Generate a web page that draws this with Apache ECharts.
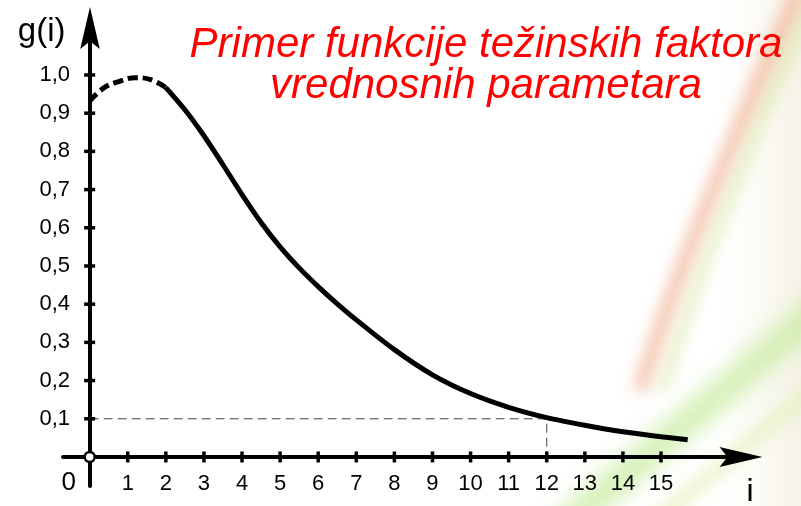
<!DOCTYPE html>
<html>
<head>
<meta charset="utf-8">
<script src="https://cdn.jsdelivr.net/npm/echarts@6/dist/echarts.min.js"></script>
<style>
    html, body { margin: 0; padding: 0; background: #fff; }
    #main { width: 801px; height: 506px; }
</style>
</head>
<body>
<div id="main"></div>
<script>
    // dashed start of the curve
    var headI = [0, 0.4, 0.8, 1.2, 1.6, 2.0]
    var headG = [0.932, 0.968, 0.984, 0.993, 0.988, 0.967]
    // solid part of the curve
    var tailI = [2.0, 2.5, 3, 3.5, 4, 4.5, 5, 5.5, 6, 6.5, 7, 8, 9, 10, 11, 12, 13, 14, 15, 15.7]
    var tailG = [0.967, 0.909, 0.841, 0.765, 0.687, 0.614, 0.55, 0.495, 0.446, 0.401, 0.359, 0.281, 0.215, 0.166, 0.13, 0.103, 0.083, 0.066, 0.053, 0.045]
    // helper line at g = 0,1 (i = 12)
    var refI = [0, 12, 12]
    var refG = [0.1, 0.1, 0]
    // tick labels
    var xTicks = [1, 2, 3, 4, 5, 6, 7, 8, 9, 10, 11, 12, 13, 14, 15]
    var yTicks = [0.1, 0.2, 0.3, 0.4, 0.5, 0.6, 0.7, 0.8, 0.9, 1.0]

    var FONT = '"Liberation Sans", Arial, sans-serif'
    var ARROW = 'path://M0,43 L10,0 L20,43 L10,35 Z'
    var FAR = 2000  // shapes drawn off screen, only their blurred shadow is seen

    function pairs(a, b) {
        var out = []
        for (var k = 0; k < a.length; k++) out.push([a[k], b[k]])
        return out
    }

    function streak(shapeType, shape, color, width, blur) {
        var s = {}
        for (var key in shape) s[key] = shape[key]
        s.x1 += FAR; s.x2 += FAR
        if (s.cpx1 != null) { s.cpx1 += FAR; s.cpx2 += FAR }
        return {
            type: shapeType, z: -10, silent: true, shape: s,
            style: {
                stroke: color, lineWidth: width, fill: null,
                shadowBlur: blur, shadowColor: color, shadowOffsetX: -FAR
            }
        }
    }

    var chart = echarts.init(document.getElementById('main'), null, {renderer: 'canvas'})

    var option = {
        backgroundColor: '#ffffff',
        animation: false,
        title: {
            text: 'Primer funkcije težinskih faktora\nvrednosnih parametara',
            left: 486,
            top: 25,
            textAlign: 'center',
            padding: 0,
            textStyle: {
                color: '#ff0000',
                fontStyle: 'italic',
                fontWeight: 'normal',
                fontSize: 42,
                lineHeight: 41,
                fontFamily: FONT
            }
        },
        grid: {
            left: 63,
            top: 28,
            width: 678,
            height: 458,
            outerBoundsMode: 'none',
            containLabel: false
        },
        xAxis: {
            type: 'value',
            min: -0.7,
            max: 17.1,
            offset: -29,
            splitLine: { show: false },
            axisTick: { show: false },
            axisLine: {
                onZero: false,
                symbol: ['none', ARROW],
                symbolSize: [21, 43],
                lineStyle: { color: '#000', width: 4 }
            },
            axisLabel: {
                customValues: xTicks,
                margin: 16,
                color: '#000',
                fontSize: 22,
                fontFamily: FONT
            }
        },
        yAxis: {
            type: 'value',
            min: -0.076,
            max: 1.123,
            offset: -27,
            splitLine: { show: false },
            axisTick: { show: false },
            axisLine: {
                onZero: false,
                symbol: ['none', ARROW],
                symbolSize: [21, 42],
                lineStyle: { color: '#000', width: 4 }
            },
            axisLabel: {
                customValues: yTicks,
                margin: 20,
                color: '#000',
                fontSize: 22,
                fontFamily: FONT,
                formatter: function (v) { return v.toFixed(1).replace('.', ',') }
            }
        },
        series: [
            {
                name: 'ref',
                type: 'line',
                data: pairs(refI, refG),
                symbol: 'none',
                lineStyle: { color: '#444', width: 1, type: [9, 5] },
                z: 1
            },
            {
                name: 'head',
                type: 'line',
                data: pairs(headI, headG),
                smooth: 0.4,
                symbol: 'none',
                lineStyle: { color: '#000', width: 5, type: [10, 5] },
                z: 3
            },
            {
                name: 'tail',
                type: 'line',
                data: pairs(tailI, tailG),
                smooth: 0.3,
                symbol: 'none',
                lineStyle: { color: '#000', width: 5, cap: 'butt' },
                z: 3
            },
            {
                name: 'xticks',
                type: 'scatter',
                data: xTicks.map(function (v) { return [v, 0] }),
                symbol: 'rect',
                symbolSize: [3.5, 11],
                itemStyle: { color: '#000', opacity: 1 },
                silent: true,
                z: 4
            },
            {
                name: 'yticks',
                type: 'scatter',
                data: yTicks.map(function (v) { return [0, v] }),
                symbol: 'rect',
                symbolSize: [11, 3.5],
                itemStyle: { color: '#000', opacity: 1 },
                silent: true,
                z: 4
            },
            {
                name: 'origin',
                type: 'scatter',
                data: [[0, 0]],
                symbol: 'circle',
                symbolSize: 10,
                itemStyle: { color: '#fff', borderColor: '#000', borderWidth: 2.5, opacity: 1 },
                silent: true,
                z: 5
            }
        ]
    }
    chart.setOption(option)

    // texts next to the axes, placed from axis coordinates
    var org = chart.convertToPixel({gridIndex: 0}, [0, 0])
    var yEnd = chart.convertToPixel({gridIndex: 0}, [0, 1.0])
    var x15 = chart.convertToPixel({gridIndex: 0}, [15, 0])

    chart.setOption({
        graphic: [
            // soft streaks in the background
            streak('bezierCurve', { x1: 800, y1: -10, x2: 640, y2: 390, cpx1: 745, cpy1: 110, cpx2: 680, cpy2: 260 }, 'rgba(238,150,110,0.9)', 10, 16),
            streak('bezierCurve', { x1: 818, y1: -10, x2: 662, y2: 390, cpx1: 763, cpy1: 110, cpx2: 702, cpy2: 260 }, 'rgba(205,225,140,0.8)', 8, 14),
            streak('line', { x1: 560, y1: 530, x2: 830, y2: 300 }, 'rgba(195,235,150,0.85)', 28, 22),
            streak('line', { x1: 645, y1: 530, x2: 830, y2: 375 }, 'rgba(225,240,180,0.85)', 14, 16),
            {
                type: 'rect', z: -11, silent: true,
                shape: { x: 720, y: 0, width: 81, height: 506 },
                style: {
                    fill: new echarts.graphic.LinearGradient(0, 0, 1, 0, [
                        { offset: 0, color: 'rgba(245,240,225,0)' },
                        { offset: 1, color: 'rgba(240,235,215,0.6)' }
                    ])
                }
            },
            {
                type: 'text', silent: true,
                x: yEnd[0] - 48, y: yEnd[1] - 43,
                style: { text: 'g(i)', fill: '#000', fontSize: 33, fontFamily: FONT, align: 'center', verticalAlign: 'middle' }
            },
            {
                type: 'text', silent: true,
                x: org[0] - 21, y: org[1] + 26,
                style: { text: '0', fill: '#000', fontSize: 26, fontFamily: FONT, align: 'center', verticalAlign: 'middle' }
            },
            {
                type: 'text', silent: true,
                x: x15[0] + 89, y: org[1] + 19,
                style: { text: 'i', fill: '#000', fontSize: 32, fontFamily: FONT, align: 'center', verticalAlign: 'top' }
            }
        ]
    })
</script>
</body>
</html>
